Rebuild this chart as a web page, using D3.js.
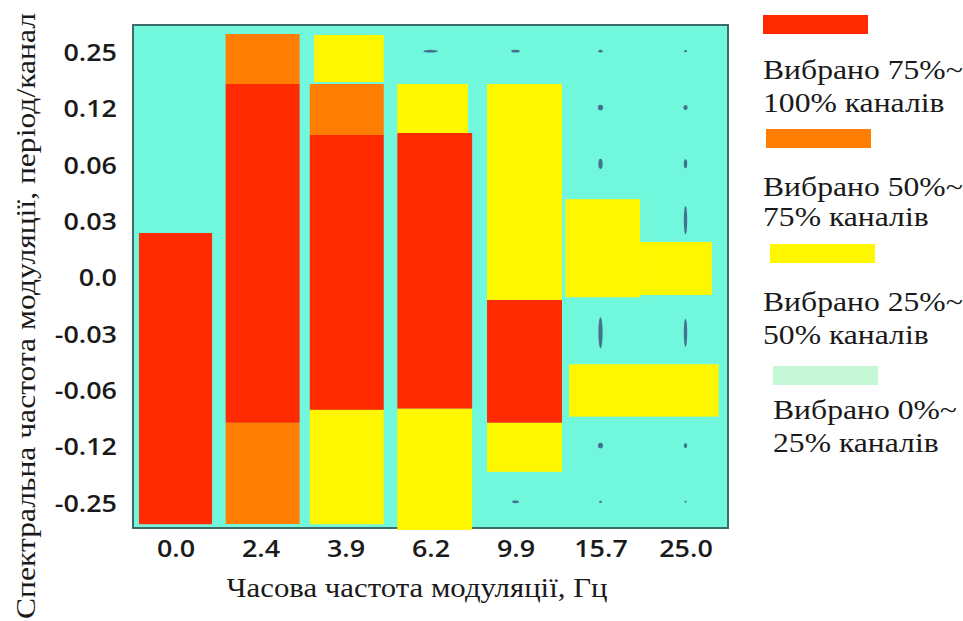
<!DOCTYPE html>
<html>
<head>
<meta charset="utf-8">
<script src="https://cdn.jsdelivr.net/npm/d3@7"></script>
<style>
  body { margin: 0; background: #fff; }
  svg { display: block; }
</style>
</head>
<body>
<svg id="chart" width="963" height="621"></svg>
<script>
// column (temporal modulation, Hz) and row (spectral modulation) labels
var xLabels = ['0.0', '2.4', '3.9', '6.2', '9.9', '15.7', '25.0'];
var yLabels = ['0.25', '0.12', '0.06', '0.03', '0.0', '-0.03', '-0.06', '-0.12', '-0.25'];

// level: 3 = 75-100%, 2 = 50-75%, 1 = 25-50%, 0 = 0-25% channels selected
var levelNames = [
  ['Вибрано 75%~', '100% каналів'],
  ['Вибрано 50%~', '75% каналів'],
  ['Вибрано 25%~', '50% каналів'],
  ['Вибрано 0%~', '25% каналів']
];
var levelColors = ['#ff2a00', '#ff7d00', '#fff700', '#c6f7d6'];

// blocks in column / row units: [x0, x1, y0, y1, level]
var blockX0 = [0.07, 1.09, 1.09, 1.09, 2.13, 2.08, 2.08, 2.08, 3.11, 3.11, 3.11, 4.165, 4.165, 4.165, 5.087, 5.965, 5.13];
var blockX1 = [0.93, 1.96, 1.96, 1.96, 2.95, 2.95, 2.95, 2.95, 3.94, 3.99, 3.99, 5.047, 5.047, 5.047, 5.965, 6.81, 6.89];
var blockY0 = [3.71, 0.178, 1.065, 7.08, 0.195, 1.065, 1.97, 6.85, 1.065, 1.935, 6.83, 1.065, 4.9, 7.08, 3.11, 3.87, 6.04];
var blockY1 = [8.88, 1.065, 7.08, 8.876, 1.03, 1.97, 6.85, 8.88, 1.935, 6.83, 8.98, 4.9, 7.08, 7.95, 4.85, 4.81, 6.97];
var blockLevel = [3, 2, 3, 2, 1, 2, 3, 1, 1, 3, 1, 1, 3, 1, 1, 1, 1];

// faint residual marks in empty cells: column, row, spread in column / row units
var markCol = [3, 4, 5, 6, 5, 6, 5, 6, 6, 5, 6, 5, 6, 4, 5, 6];
var markRow = [0, 0, 0, 0, 1, 1, 2, 2, 3, 5, 5, 7, 7, 8, 8, 8];
var markDx  = [0.17, 0.1, 0.05, 0.035, 0.06, 0.05, 0.05, 0.04, 0.04, 0.05, 0.04, 0.06, 0.04, 0.08, 0.035, 0.025];
var markDy  = [0.05, 0.05, 0.05, 0.04, 0.1, 0.09, 0.18, 0.16, 0.5, 0.55, 0.5, 0.1, 0.09, 0.05, 0.04, 0.035];

var svg = d3.select('#chart');

var plot = { left: 133, right: 728, top: 25, bottom: 528 };

var x = d3.scaleLinear().domain([0, xLabels.length]).range([plot.left, plot.right]);
var y = d3.scaleLinear().domain([0, yLabels.length]).range([24, 531]);

var levelColor = d3.scaleOrdinal().domain([3, 2, 1, 0]).range(levelColors);

// stretch text horizontally (the source picture is widened)
function stretch(sel, k) {
  sel.each(function() {
    var w = this.getComputedTextLength();
    d3.select(this)
        .attr('textLength', w * k)
        .attr('lengthAdjust', 'spacingAndGlyphs');
  });
}

// background + frame
svg.append('rect')
    .attr('x', plot.left)
    .attr('y', plot.top)
    .attr('width', plot.right - plot.left)
    .attr('height', plot.bottom - plot.top)
    .style('fill', '#70f7dc')
    .style('stroke', '#3d6c68')
    .style('stroke-width', '2px');

// residual marks
var marks = d3.range(markCol.length).map(function(i) {
  return { c: markCol[i], r: markRow[i], dx: markDx[i], dy: markDy[i] };
});

svg.append('g').selectAll('ellipse')
    .data(marks)
  .enter().append('ellipse')
    .attr('cx', function(d) { return x(d.c + 0.5); })
    .attr('cy', function(d) { return y(d.r + 0.5) - 1; })
    .attr('rx', function(d) { return (x(d.dx) - x(0)) / 2; })
    .attr('ry', function(d) { return (y(d.dy) - y(0)) / 2; })
    .style('fill', '#3a5a80')
    .style('opacity', 0.85);

// blocks
var blocks = d3.range(blockLevel.length).map(function(i) {
  return { x0: blockX0[i], x1: blockX1[i], y0: blockY0[i], y1: blockY1[i], level: blockLevel[i] };
});

svg.append('g').selectAll('rect')
    .data(blocks)
  .enter().append('rect')
    .attr('x', function(d) { return x(d.x0); })
    .attr('y', function(d) { return y(d.y0); })
    .attr('width', function(d) { return x(d.x1) - x(d.x0); })
    .attr('height', function(d) { return y(d.y1) - y(d.y0); })
    .style('fill', function(d) { return levelColor(d.level); });

// axes
var xAxis = d3.axisBottom(x)
    .tickValues(d3.range(xLabels.length).map(function(i) { return i + 0.5; }))
    .tickFormat(function(d) { return xLabels[Math.floor(d)]; })
    .tickSize(0)
    .tickPadding(0);

var yAxis = d3.axisLeft(y)
    .tickValues(d3.range(yLabels.length).map(function(i) { return i + 0.5; }))
    .tickFormat(function(d) { return yLabels[Math.floor(d)]; })
    .tickSize(0)
    .tickPadding(16);

var gx = svg.append('g')
    .attr('transform', 'translate(0,' + plot.bottom + ')')
    .call(xAxis);

var gy = svg.append('g')
    .attr('transform', 'translate(' + plot.left + ',0)')
    .call(yAxis);

[gx, gy].forEach(function(g) {
  g.select('.domain').remove();
  g.selectAll('text')
      .style('font-family', '"Open Sans", sans-serif')
      .style('font-weight', 600)
      .style('font-size', '23px')
      .style('fill', '#1a1a1a');
});

gx.selectAll('text').attr('y', 29).attr('dy', 0);
gy.selectAll('text').attr('dy', '0.36em');

stretch(gx.selectAll('text'), 1.17);
stretch(gy.selectAll('text'), 1.17);

// axis titles
var serif = '"Liberation Serif", "Times New Roman", serif';

svg.append('text')
    .attr('x', 417)
    .attr('y', 597)
    .attr('text-anchor', 'middle')
    .style('font-family', serif)
    .style('font-size', '28px')
    .style('fill', '#1a1a1a')
    .text('Часова частота модуляції, Гц')
    .call(stretch, 1.1);

svg.append('text')
    .attr('transform', 'translate(35,316) rotate(-90)')
    .attr('text-anchor', 'middle')
    .style('font-family', serif)
    .style('font-size', '28px')
    .style('fill', '#1a1a1a')
    .attr('textLength', 606)
    .attr('lengthAdjust', 'spacingAndGlyphs')
    .text('Спектральна частота модуляції, період/канал');

// legend
var legendLayout = [
  { sx: 763, sy: 15, tx: 763, ty: 79, gap: 33 },
  { sx: 766, sy: 129, tx: 763, ty: 196, gap: 30 },
  { sx: 770, sy: 244, tx: 763, ty: 311, gap: 33 },
  { sx: 773, sy: 366, tx: 773, ty: 419, gap: 33 }
];

var legend = svg.append('g').selectAll('g')
    .data(levelNames)
  .enter().append('g');

legend.append('rect')
    .attr('x', function(d, i) { return legendLayout[i].sx; })
    .attr('y', function(d, i) { return legendLayout[i].sy; })
    .attr('width', 105)
    .attr('height', 19)
    .style('fill', function(d, i) { return levelColors[i]; });

legend.each(function(d, i) {
  var g = d3.select(this);
  d.forEach(function(line, j) {
    g.append('text')
        .attr('x', legendLayout[i].tx)
        .attr('y', legendLayout[i].ty + j * legendLayout[i].gap)
        .style('font-family', serif)
        .style('font-size', '28px')
        .style('fill', '#1a1a1a')
        .text(line)
        .call(stretch, 1.13);
  });
});
</script>
</body>
</html>
